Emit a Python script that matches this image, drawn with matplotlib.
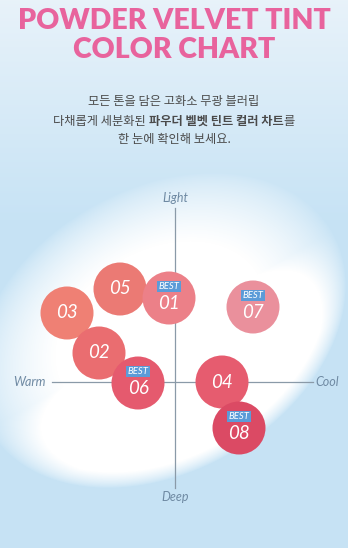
import numpy as np
import matplotlib
matplotlib.use("Agg")
import matplotlib.pyplot as plt
from matplotlib.patches import Circle

# ---- data ----
shade_ids = ["05", "01", "03", "02", "06", "07", "04", "08"]
warm_cool = [-2.20, -0.24, -4.32, -3.04, -1.48, 3.12, 1.88, 2.56]   # - warm, + cool
light_deep = [3.72, 3.36, 2.76, 1.16, -0.04, 3.00, 0.00, -1.84]     # + light, - deep
is_best = [False, True, False, False, True, True, False, True]
shade_colors = ["#EB7A74", "#EC8088", "#EF8074", "#EA6D70", "#E55A6E",
                "#EA909C", "#E65C6F", "#DB4A64"]
axis_labels = {"top": "Light", "bottom": "Deep", "left": "Warm", "right": "Cool"}
title_lines = ["POWDER VELVET TINT", "COLOR CHART"]

W, H = 348, 548
fig = plt.figure(figsize=(W / 100, H / 100), dpi=100)

# background gradient (styling)
bg = fig.add_axes([0, 0, 1, 1])
bg.set_axis_off()
yy, xx = np.mgrid[0:H, 0:W]
base = np.array([0.78, 0.89, 0.96])
top = np.array([0.91, 0.95, 0.98])
t = np.clip(1 - yy / 220.0, 0, 1)[..., None]
img = base * (1 - t) + top * t
ang = np.deg2rad(30)
dx, dy = xx - 160, yy - 330
u = dx * np.cos(ang) - dy * np.sin(ang)
v = dx * np.sin(ang) + dy * np.cos(ang)
r = (u / 193.0) ** 2 + (v / 138.0) ** 2
k = 1.4 + 3.6 * np.clip(v / 80.0, 0, 1)
wmask = np.clip((1.05 - r) * k, 0, 1)[..., None] ** 0.8
img = img * (1 - wmask) + np.ones(3) * wmask
bg.imshow(img, extent=[0, W, H, 0], aspect="auto")
bg.set_xlim(0, W)
bg.set_ylim(H, 0)

# chart axes: center at pixel (175, 382), 25 px per unit
cx, cy, s = 175, 382, 25.0
ax = fig.add_axes([0, 0, 1, 1])
ax.set_axis_off()
ax.patch.set_alpha(0)
ax.set_xlim((0 - cx) / s, (W - cx) / s)
ax.set_ylim((cy - H) / s, (cy - 0) / s)
ax.set_aspect("auto")

line_c = "#8A9AA8"
ax.plot([(52 - cx) / s, (313 - cx) / s], [0, 0], color=line_c, lw=0.9, zorder=1)
ax.plot([0, 0], [(cy - 488) / s, (cy - 208) / s], color=line_c, lw=0.9, zorder=1)

lab_c = "#6F8AA3"
lab_kw = dict(color=lab_c, fontsize=9, style="italic", family="Lato", ha="center", va="center")
ax.text(0, (cy - 198) / s, axis_labels["top"], **lab_kw)
ax.text(0, (cy - 497) / s, axis_labels["bottom"], **lab_kw)
ax.text((29 - cx) / s, 0, axis_labels["left"], **lab_kw)
ax.text((327 - cx) / s, 0, axis_labels["right"], **lab_kw)

R = 26.5 / s
for sid, x, y, best, c in zip(shade_ids, warm_cool, light_deep, is_best, shade_colors):
    ax.add_patch(Circle((x, y), R, facecolor=c, edgecolor="none", zorder=3))
    if best:
        ax.text(x, y - 0.22, sid, color="white", fontsize=13.5, style="italic",
                family="Lato", ha="center", va="center", zorder=5)
        ax.text(x, y + 0.47, "BEST", color="white", fontsize=6.8, style="italic",
                family="Lato", ha="center", va="center", zorder=5,
                bbox=dict(boxstyle="square,pad=0.12", facecolor="#5B9BD8", edgecolor="none"))
    else:
        ax.text(x, y, sid, color="white", fontsize=13.5, style="italic",
                family="Lato", ha="center", va="center", zorder=5)

# title
pink = "#E8639D"
fig.text(0.5, 1 - 21 / H, title_lines[0], color=pink, fontsize=20.5, fontweight="heavy",
         family="Lato", ha="center", va="center")
fig.text(0.5, 1 - 50 / H, title_lines[1], color=pink, fontsize=20.5, fontweight="heavy",
         family="Lato", ha="center", va="center")

# korean subtitle
kfam = ["Noto Sans CJK KR", "DejaVu Sans"]
gray = "#4A4A4A"
fs = 8.8
fig.text(0.5, 1 - 102 / H, "모든 톤을 담은 고화소 무광 블러립", color=gray, fontsize=fs,
         family=kfam, ha="center", va="center")
fig.text(0.5, 1 - 140 / H, "한 눈에 확인해 보세요.", color=gray, fontsize=fs,
         family=kfam, ha="center", va="center")

parts = [("다채롭게 세분화된 ", "normal"), ("파우더 벨벳 틴트 컬러 차트", "bold"), ("를", "normal")]
fig.canvas.draw()
rend = fig.canvas.get_renderer()
tmp = []
widths = []
for txt, wt in parts:
    tt = fig.text(0, 0, txt, fontsize=fs, family=kfam, fontweight=wt)
    bb = tt.get_window_extent(renderer=rend)
    widths.append(bb.width)
    tmp.append(tt)
for tt in tmp:
    tt.remove()
total = sum(widths)
x0 = (W - total) / 2
for (txt, wt), w in zip(parts, widths):
    fig.text(x0 / W, 1 - 121 / H, txt, color=gray, fontsize=fs, family=kfam,
             fontweight=wt, ha="left", va="center")
    x0 += w

fig.savefig("out.png", dpi=100)
